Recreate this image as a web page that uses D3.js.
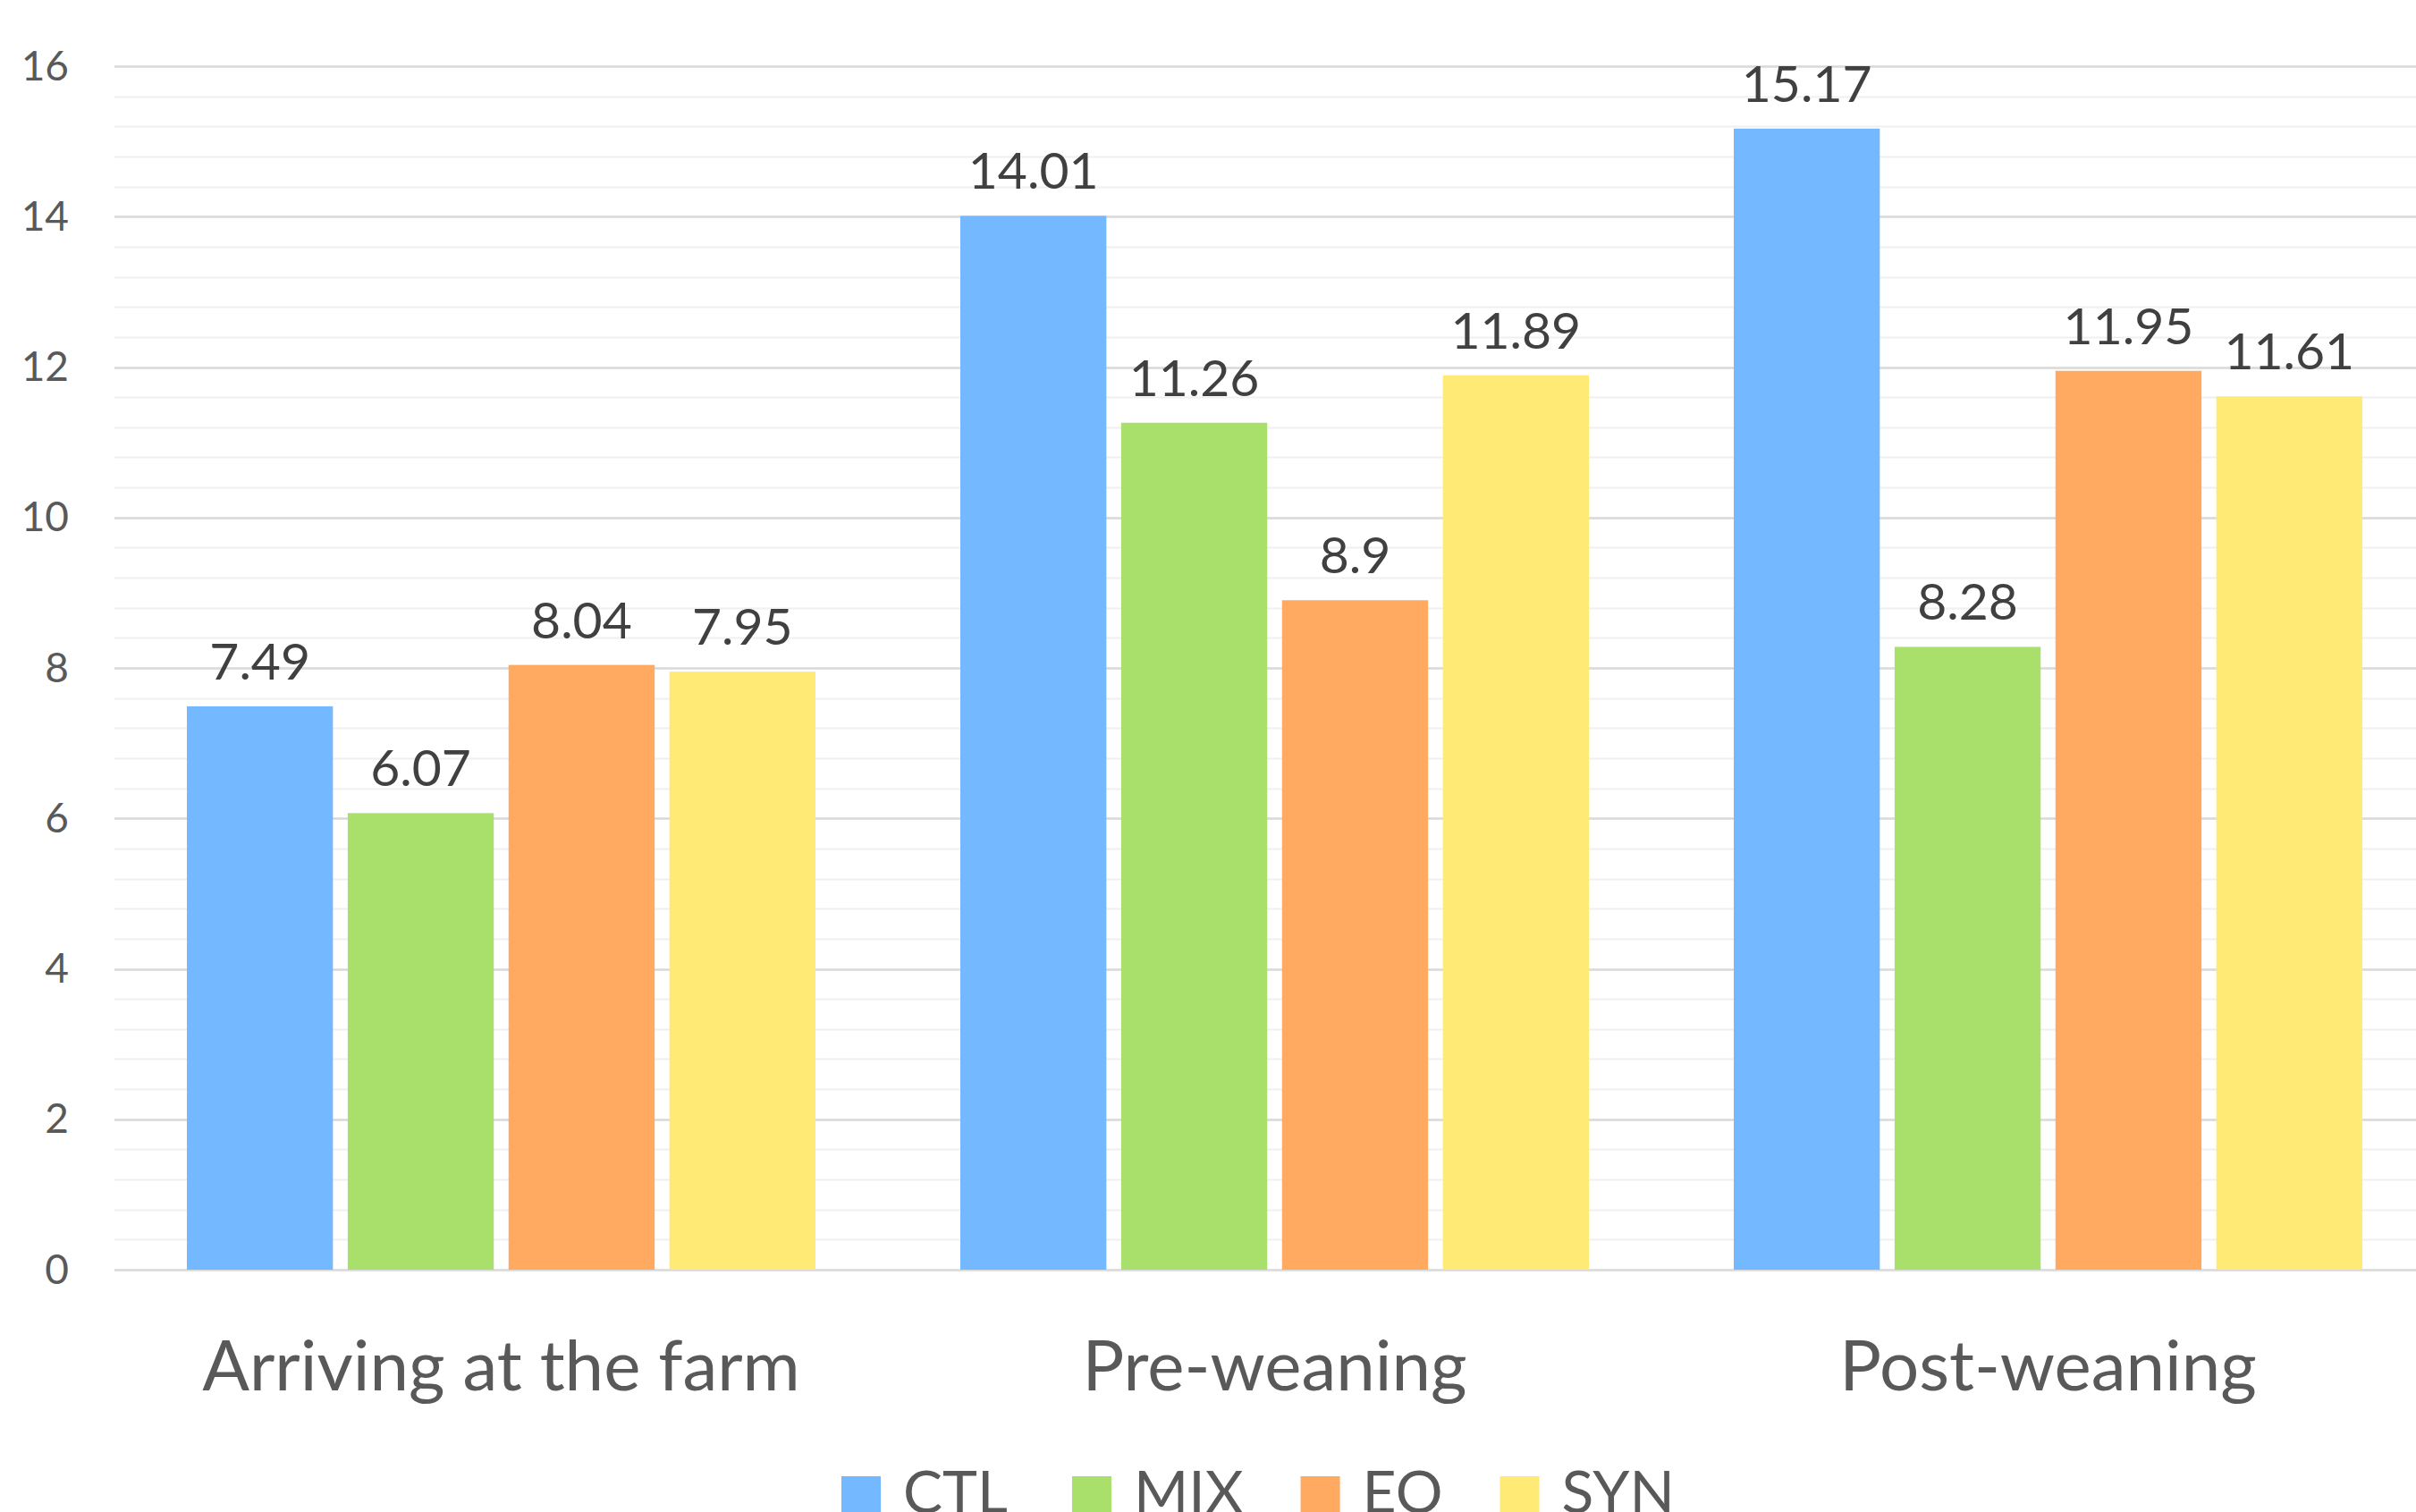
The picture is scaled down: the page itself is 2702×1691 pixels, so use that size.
<!DOCTYPE html>
<html>
<head>
<meta charset="utf-8">
<script src="https://cdn.jsdelivr.net/npm/d3@7"></script>
<style>
  html, body { margin: 0; padding: 0; background: #ffffff; }
  svg { display: block; }
  text { font-family: Lato, "Noto Sans", sans-serif; }
</style>
</head>
<body>
<svg id="chart" width="2702" height="1691"></svg>
<script>
// Stages along the x axis
const categories = ["Arriving at the farm", "Pre-weaning", "Post-weaning"];
// Treatment groups
const series = ["CTL", "MIX", "EO", "SYN"];
// Values per treatment, one per stage
const ctlValues = [7.49, 14.01, 15.17];
const mixValues = [6.07, 11.26, 8.28];
const eoValues  = [8.04, 8.9, 11.95];
const synValues = [7.95, 11.89, 11.61];
const seriesColors = ["#74B8FF", "#A9E06B", "#FFA961", "#FFEA75"];
// Y axis ticks
const yTicks = [0, 2, 4, 6, 8, 10, 12, 14, 16];
const yMinorStep = 0.4;

const valuesBySeries = [ctlValues, mixValues, eoValues, synValues];

const svg = d3.select("#chart");

const plotLeft = 128, plotBandWidth = 865;
const x0 = d3.scaleBand()
  .domain(categories)
  .range([plotLeft, plotLeft + plotBandWidth * categories.length])
  .padding(0);
const x1 = d3.scaleBand()
  .domain(series)
  .range([81, plotBandWidth - 81])
  .paddingInner(0.092)
  .paddingOuter(0);
const y = d3.scaleLinear().domain([0, 16]).range([1420, 74]);
const color = d3.scaleOrdinal().domain(series).range(seriesColors);

// Minor gridlines
const minorTicks = d3.range(0, 16 + 1e-9, yMinorStep).filter(v => Math.abs(v / 2 - Math.round(v / 2)) > 1e-6);
svg.append("g").selectAll("line").data(minorTicks).join("line")
  .attr("x1", plotLeft).attr("x2", 2702)
  .attr("y1", d => Math.round(y(d)) + 0.5).attr("y2", d => Math.round(y(d)) + 0.5)
  .attr("stroke", "#f0f0f0").attr("stroke-width", 2);

// Major gridlines
svg.append("g").selectAll("line").data(yTicks).join("line")
  .attr("x1", plotLeft).attr("x2", 2702)
  .attr("y1", d => Math.round(y(d)) + 0.5).attr("y2", d => Math.round(y(d)) + 0.5)
  .attr("stroke", "#d9d9d9").attr("stroke-width", 2.5);

// Y tick labels
svg.append("g").selectAll("text").data(yTicks).join("text")
  .attr("x", 77).attr("y", d => y(d))
  .attr("dy", "0.34em")
  .attr("text-anchor", "end")
  .attr("font-size", 46)
  .attr("fill", "#595959")
  .text(d => d);

// Bars
const rows = [];
categories.forEach((c, ci) => {
  series.forEach((s, si) => rows.push({ cat: c, ser: s, value: valuesBySeries[si][ci] }));
});

const bars = svg.append("g");
bars.selectAll("rect").data(rows).join("rect")
  .attr("x", d => x0(d.cat) + x1(d.ser))
  .attr("y", d => y(d.value))
  .attr("width", x1.bandwidth())
  .attr("height", d => y(0) - y(d.value))
  .attr("fill", d => color(d.ser));

// Value labels
svg.append("g").selectAll("text").data(rows).join("text")
  .attr("x", d => x0(d.cat) + x1(d.ser) + x1.bandwidth() / 2)
  .attr("y", d => y(d.value) - 30)
  .attr("text-anchor", "middle")
  .attr("font-size", 57)
  .attr("fill", "#404040")
  .text(d => d.value);

// Category labels
svg.append("g").selectAll("text").data(categories).join("text")
  .attr("x", d => x0(d) + x0.bandwidth() / 2)
  .attr("y", 1555)
  .attr("text-anchor", "middle")
  .attr("font-size", 78)
  .attr("fill", "#595959")
  .text(d => d);

// Legend along the bottom edge
const legend = svg.append("g");
let lx = 941;
series.forEach((s, i) => {
  const g = legend.append("g");
  g.append("rect")
    .attr("x", lx).attr("y", 1651)
    .attr("width", 44).attr("height", 44)
    .attr("fill", color(s));
  const t = g.append("text")
    .attr("x", lx + 69).attr("y", 1692)
    .attr("font-size", 66)
    .attr("fill", "#595959")
    .text(s);
  lx += 69 + t.node().getComputedTextLength() + (i === 0 ? 72 : 64);
});
</script>
</body>
</html>
